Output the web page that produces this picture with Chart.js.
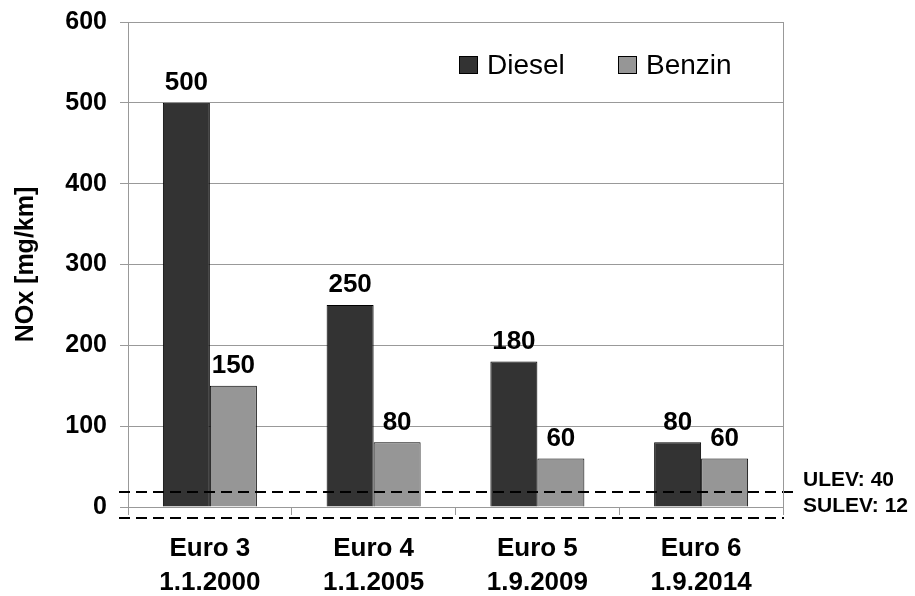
<!DOCTYPE html>
<html>
<head>
<meta charset="utf-8">
<script src="https://cdn.jsdelivr.net/npm/chart.js@4.4.1/dist/chart.umd.min.js"></script>
<style>
html,body{margin:0;padding:0;background:#fff;}
canvas{display:block;}
</style>
</head>
<body>
<canvas id="c" width="915" height="596"></canvas>
<script>
const categories = [['Euro 3','1.1.2000'],['Euro 4','1.1.2005'],['Euro 5','1.9.2009'],['Euro 6','1.9.2014']];
const seriesNames = ['Diesel','Benzin'];
const dieselValues = [500,250,180,80];
const benzinValues = [150,80,60,60];
const yTickValues = [0,100,200,300,400,500,600];
const refLineLabels = ['ULEV: 40','SULEV: 12'];
const refLineValues = [18,-14];

const FONT = "'Liberation Sans', Arial, sans-serif";
const colors = ['#333333','#969696'];

const dataLabelPlugin = {
  id:'dataLabels',
  afterDatasetsDraw(chart){
    const ctx = chart.ctx;
    ctx.save();
    ctx.font = 'bold 26px ' + FONT;
    ctx.fillStyle = '#000';
    ctx.textAlign = 'center';
    ctx.textBaseline = 'bottom';
    chart.data.datasets.forEach((ds,i)=>{
      chart.getDatasetMeta(i).data.forEach((el,j)=>{
        ctx.fillText(String(ds.data[j]), el.x, el.y - 7);
      });
    });
    ctx.restore();
  }
};

const refLinePlugin = {
  id:'refLines',
  afterDatasetsDraw(chart){
    const {ctx, chartArea} = chart;
    const y = chart.scales.y;
    ctx.save();
    ctx.strokeStyle = '#000';
    ctx.lineWidth = 2;
    ctx.setLineDash([11,6]);
    const ends = [11, 1];
    refLineValues.forEach((v,i)=>{
      const py = Math.round(y.getPixelForValue(v));
      ctx.beginPath();
      ctx.moveTo(chartArea.left - 9, py);
      ctx.lineTo(chartArea.right + ends[i], py);
      ctx.stroke();
    });
    ctx.setLineDash([]);
    ctx.font = 'bold 21px ' + FONT;
    ctx.fillStyle = '#000';
    ctx.textAlign = 'left';
    ctx.textBaseline = 'middle';
    refLineValues.forEach((v,i)=>{
      const py = y.getPixelForValue(v);
      ctx.fillText(refLineLabels[i], chartArea.right + 20, py - 12);
    });
    ctx.restore();
  }
};

const borderPlugin = {
  id:'rightBorder',
  afterDraw(chart){
    const {ctx, chartArea} = chart;
    ctx.save();
    ctx.strokeStyle = '#999';
    ctx.lineWidth = 1;
    ctx.beginPath();
    ctx.moveTo(Math.round(chartArea.right)+0.5, chartArea.top);
    ctx.lineTo(Math.round(chartArea.right)+0.5, chartArea.bottom + 2);
    ctx.stroke();
    ctx.restore();
  }
};

const legendPlugin = {
  id:'customLegend',
  afterDraw(chart){
    const {ctx, chartArea} = chart;
    ctx.save();
    ctx.font = '28px ' + FONT;
    ctx.textBaseline = 'middle';
    ctx.textAlign = 'left';
    const cy = chartArea.top + 43;
    const starts = [chartArea.right - 324, chartArea.right - 165];
    chart.data.datasets.forEach((ds,i)=>{
      const x = starts[i];
      ctx.fillStyle = ds.backgroundColor;
      ctx.fillRect(x, cy - 9, 19, 18);
      ctx.strokeStyle = '#000';
      ctx.lineWidth = 1;
      ctx.strokeRect(x + 0.5, cy - 8.5, 18, 17);
      ctx.fillStyle = '#000';
      ctx.fillText(ds.label, x + 28, cy + 1);
    });
    ctx.restore();
  }
};

new Chart(document.getElementById('c'), {
  type:'bar',
  data:{
    labels:categories,
    datasets:[
      {label:seriesNames[0], data:dieselValues, backgroundColor:colors[0], borderColor:'#000', borderWidth:1},
      {label:seriesNames[1], data:benzinValues, backgroundColor:colors[1], borderColor:'#000', borderWidth:1}
    ]
  },
  options:{
    responsive:false,
    animation:false,
    devicePixelRatio:1,
    layout:{padding:{left:0,right:132,top:22,bottom:0}},
    datasets:{bar:{categoryPercentage:0.574, barPercentage:1.0}},
    plugins:{legend:{display:false}, tooltip:{enabled:false}},
    scales:{
      x:{
        grid:{drawOnChartArea:false, drawTicks:true, tickLength:8, color:'#999', offset:true},
        border:{display:true, color:'#999', width:1},
        ticks:{font:{family:FONT, size:26, weight:'bold', lineHeight:1.31}, color:'#000', padding:17, maxRotation:0, autoSkip:false},
        afterFit(s){ s.height = 89; s.paddingLeft = 0; s.paddingRight = 0; }
      },
      y:{
        min:0, max:600,
        afterBuildTicks(s){ s.ticks = yTickValues.map(v=>({value:v})); },
        grid:{color:'#999', tickLength:8, drawTicks:true},
        border:{display:true, color:'#999', width:1},
        ticks:{font:{family:FONT, size:25, weight:'bold'}, color:'#000', padding:13},
        title:{display:true, text:'NOx [mg/km]', font:{family:FONT, size:25, weight:'bold'}, color:'#000', padding:{top:11,bottom:0}},
        afterFit(s){ s.width = 128; s.paddingTop = 0; s.paddingBottom = 0; }
      }
    }
  },
  plugins:[dataLabelPlugin, refLinePlugin, borderPlugin, legendPlugin]
});
</script>
</body>
</html>
